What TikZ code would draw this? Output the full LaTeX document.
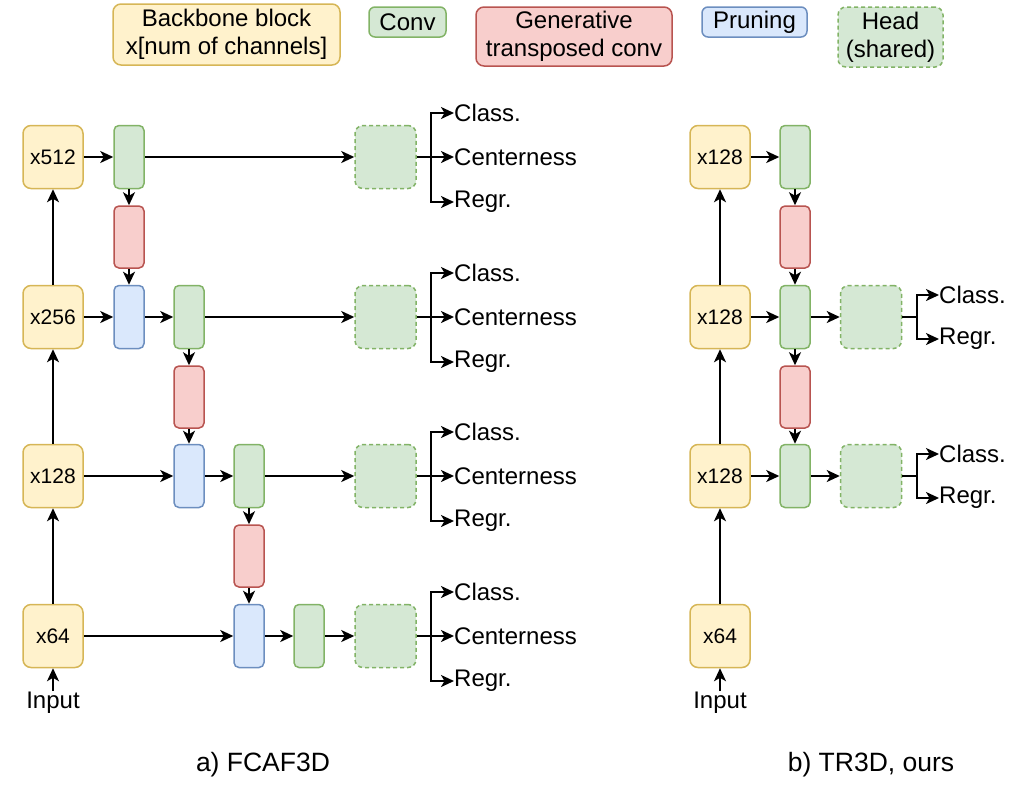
\documentclass[tikz,border=0pt]{standalone}
\usepackage{fontspec}
\setmainfont{Liberation Sans}
\usetikzlibrary{arrows.meta}
\definecolor{ybf}{HTML}{FFF2CC}\definecolor{ybd}{HTML}{D6B656}
\definecolor{gf}{HTML}{D5E8D4}\definecolor{gd}{HTML}{82B366}
\definecolor{rf}{HTML}{F8CECC}\definecolor{rd}{HTML}{B85450}
\definecolor{bf}{HTML}{DAE8FC}\definecolor{bd}{HTML}{6C8EBF}
\begin{document}
\begin{tikzpicture}[x=1pt,y=-1pt,
 box/.style={draw, line width=1.5pt, rounded corners=8pt, inner sep=0pt, font=\fontsize{21}{25}\selectfont},
 bb/.style={box, fill=ybf, draw=ybd, minimum width=60pt, minimum height=63pt},
 cv/.style={box, fill=gf, draw=gd, minimum width=30pt, minimum height=63pt, rounded corners=5pt},
 gt/.style={box, fill=rf, draw=rd, minimum width=30pt, minimum height=62pt, rounded corners=5pt},
 pr/.style={box, fill=bf, draw=bd, minimum width=30pt, minimum height=63pt, rounded corners=5pt},
 hd/.style={box, fill=gf, draw=gd, dash pattern=on 4pt off 3pt, minimum width=61pt, minimum height=63pt},
 lg/.style={font=\fontsize{24}{28}\selectfont, align=center},
 arr/.style={-{Stealth[length=13pt,width=12pt,inset=3.5pt]}, line width=1.9pt},
 lbl/.style={font=\fontsize{24}{28}\selectfont, inner sep=0pt},
 subcap/.style={font=\fontsize{26.5}{30}\selectfont, inner sep=0pt},
]
\useasboundingbox (0,0) rectangle (1024,795);
% legend
\node[bb, lg, minimum width=227pt, minimum height=61pt] (lgbb) at (226.5,34.5) {Backbone block\\x[num of channels]};
\node[cv, lg, minimum width=77pt, minimum height=30pt, rounded corners=6pt] (lgcv) at (407.5,22) {Conv};
\node[gt, lg, minimum width=196pt, minimum height=59pt, rounded corners=8pt] (lggt) at (574,36.5) {Generative\\transposed conv};
\node[pr, lg, minimum width=105pt, minimum height=30pt, rounded corners=6pt] (lgpr) at (754.5,22) {Pruning};
\node[hd, lg, minimum width=105pt, minimum height=60pt] (lghd) at (890.5,37) {Head\\(shared)};

% ---------- left: FCAF3D
\node[bb] (b1) at (53,157) {x512};
\node[bb] (b2) at (53,317) {x256};
\node[bb] (b3) at (53,476) {x128};
\node[bb] (b4) at (53,636) {x64};
\node[lbl, inner sep=1pt] (in1) at (53,703) {Input};

\node[cv] (c1) at (129,157) {};
\node[gt] (g1) at (129,237) {};
\node[pr] (p2) at (129,317) {};
\node[cv] (c2) at (189,317) {};
\node[gt] (g2) at (189,397) {};
\node[pr] (p3) at (189,476) {};
\node[cv] (c3) at (249,476) {};
\node[gt] (g3) at (249,556) {};
\node[pr] (p4) at (249,636) {};
\node[cv] (c4) at (309,636) {};

\foreach \i/\r in {1/157,2/317,3/476,4/636}{
  \node[hd] (h\i) at (385.5,\r) {};
  \node[lbl, anchor=west] (cl\i) at (454,\r-44) {Class.};
  \node[lbl, anchor=west] (ce\i) at (454,\r) {Centerness};
  \node[lbl, anchor=west] (rg\i) at (454,\r+45) {Regr.};
  \draw[arr] (h\i.east) -- (ce\i.west);
  \draw[arr] (h\i.east) -- ++(14,0) |- (cl\i.west);
  \draw[arr] (h\i.east) -- ++(14,0) |- (rg\i.west);
}

\draw[arr] (in1.north) -- (b4.south);
\draw[arr] (b4) -- (b3);
\draw[arr] (b3) -- (b2);
\draw[arr] (b2) -- (b1);

\draw[arr] (b1) -- (c1);
\draw[arr] (c1) -- (h1);
\draw[arr] (c1) -- (g1);
\draw[arr] (g1) -- (p2);
\draw[arr] (b2) -- (p2);
\draw[arr] (p2) -- (c2);
\draw[arr] (c2) -- (h2);
\draw[arr] (c2) -- (g2);
\draw[arr] (g2) -- (p3);
\draw[arr] (b3) -- (p3);
\draw[arr] (p3) -- (c3);
\draw[arr] (c3) -- (h3);
\draw[arr] (c3) -- (g3);
\draw[arr] (g3) -- (p4);
\draw[arr] (b4) -- (p4);
\draw[arr] (p4) -- (c4);
\draw[arr] (c4) -- (h4);

\node[subcap] (capa) at (263,765) {a) FCAF3D};

% ---------- right: TR3D
\node[bb] (rb1) at (720,157) {x128};
\node[bb] (rb2) at (720,317) {x128};
\node[bb] (rb3) at (720,476) {x128};
\node[bb] (rb4) at (720,636) {x64};
\node[lbl, inner sep=1pt] (in2) at (720,703) {Input};

\node[cv] (rc1) at (795,157) {};
\node[gt] (rg1) at (795,237) {};
\node[cv] (rc2) at (795,317) {};
\node[gt] (rg2) at (795,397) {};
\node[cv] (rc3) at (795,476) {};

\foreach \i/\r in {2/317,3/476}{
  \node[hd] (rh\i) at (871,\r) {};
  \node[lbl, anchor=west] (rcl\i) at (939,\r-22) {Class.};
  \node[lbl, anchor=west] (rrg\i) at (939,\r+22) {Regr.};
  \draw[arr] (rh\i.east) -- ++(15,0) |- (rcl\i.west);
  \draw[arr] (rh\i.east) -- ++(15,0) |- (rrg\i.west);
}

\draw[arr] (in2.north) -- (rb4.south);
\draw[arr] (rb4) -- (rb3);
\draw[arr] (rb3) -- (rb2);
\draw[arr] (rb2) -- (rb1);
\draw[arr] (rb1) -- (rc1);
\draw[arr] (rc1) -- (rg1);
\draw[arr] (rg1) -- (rc2);
\draw[arr] (rb2) -- (rc2);
\draw[arr] (rc2) -- (rh2);
\draw[arr] (rc2) -- (rg2);
\draw[arr] (rg2) -- (rc3);
\draw[arr] (rb3) -- (rc3);
\draw[arr] (rc3) -- (rh3);

\node[subcap] (capb) at (871,765) {b) TR3D, ours};
\end{tikzpicture}
\end{document}
